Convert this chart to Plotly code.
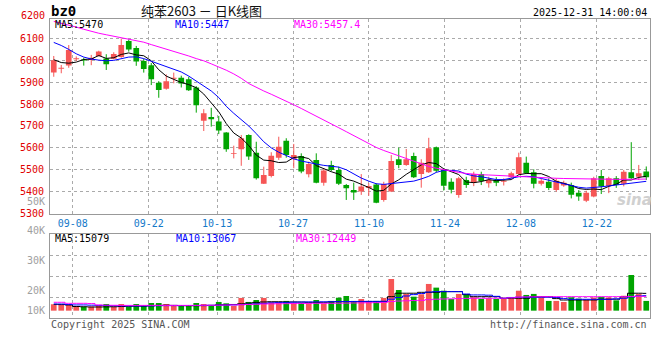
import plotly.graph_objects as go

# ---------------- data ----------------
DATES = ["09-03", "09-04", "09-05",
         "09-08", "09-09", "09-10", "09-11", "09-12",
         "09-15", "09-16", "09-17", "09-18", "09-19",
         "09-22", "09-23", "09-24", "09-25", "09-26",
         "09-29", "09-30", "10-09", "10-10",
         "10-13", "10-14", "10-15", "10-16", "10-17",
         "10-20", "10-21", "10-22", "10-23", "10-24",
         "10-27", "10-28", "10-29", "10-30", "10-31",
         "11-03", "11-04", "11-05", "11-06", "11-07",
         "11-10", "11-11", "11-12", "11-13", "11-14",
         "11-17", "11-18", "11-19", "11-20", "11-21",
         "11-24", "11-25", "11-26", "11-27", "11-28",
         "12-01", "12-02", "12-03", "12-04", "12-05",
         "12-08", "12-09", "12-10", "12-11", "12-12",
         "12-15", "12-16", "12-17", "12-18", "12-19",
         "12-22", "12-23", "12-24", "12-25", "12-26",
         "12-29", "12-30", "12-31"]

OPEN = [5944, 5962, 5976, 6005, 6004, 6002, 6020, 6008, 6007, 6015,
        6088, 6056, 5997, 5978, 5898, 5870, 5916, 5921, 5914, 5876,
        5724, 5741, 5720, 5670, 5573, 5594, 5659, 5578, 5436, 5471,
        5555, 5633, 5548, 5563, 5479, 5545, 5441, 5522, 5499, 5430,
        5407, 5400, 5416, 5433, 5362, 5400, 5548, 5522, 5563, 5480,
        5488, 5603, 5500, 5445, 5385, 5453, 5441, 5480, 5438, 5453,
        5445, 5466, 5480, 5532, 5488, 5436, 5445, 5407, 5428, 5430,
        5395, 5358, 5378, 5471, 5426, 5461, 5436, 5488, 5468, 5492]
HIGH = [6020, 5979, 6070, 6018, 6012, 6025, 6044, 6028, 6037, 6100,
        6096, 6066, 6006, 5988, 5905, 5936, 5944, 5930, 5925, 5882,
        5777, 5783, 5746, 5672, 5610, 5659, 5662, 5628, 5514, 5580,
        5651, 5644, 5618, 5575, 5537, 5575, 5507, 5541, 5514, 5435,
        5441, 5480, 5438, 5438, 5445, 5567, 5601, 5595, 5578, 5548,
        5646, 5606, 5507, 5461, 5468, 5468, 5491, 5491, 5468, 5466,
        5461, 5491, 5578, 5560, 5502, 5458, 5461, 5461, 5450, 5441,
        5407, 5404, 5468, 5499, 5468, 5471, 5499, 5626, 5522, 5515]
LOW = [5925, 5941, 5966, 5997, 5976, 5978, 6017, 5956, 6005, 6012,
       6040, 5975, 5944, 5887, 5829, 5866, 5895, 5876, 5860, 5761,
       5677, 5697, 5663, 5582, 5552, 5518, 5545, 5455, 5435, 5465,
       5545, 5555, 5507, 5484, 5465, 5438, 5427, 5493, 5430, 5362,
       5362, 5385, 5381, 5347, 5354, 5398, 5507, 5518, 5462, 5418,
       5485, 5488, 5405, 5392, 5372, 5417, 5425, 5430, 5418, 5425,
       5428, 5461, 5477, 5480, 5415, 5428, 5407, 5400, 5422, 5369,
       5358, 5352, 5374, 5389, 5393, 5417, 5424, 5458, 5453, 5453]
CLOSE = [6000, 5966, 6047, 6010, 5999, 6012, 6040, 5982, 6029, 6070,
         6050, 5995, 5961, 5914, 5865, 5904, 5920, 5894, 5863, 5795,
         5758, 5731, 5679, 5594, 5577, 5644, 5560, 5461, 5476, 5564,
         5605, 5567, 5567, 5492, 5526, 5441, 5496, 5499, 5436, 5415,
         5396, 5423, 5426, 5349, 5435, 5540, 5522, 5548, 5466, 5532,
         5598, 5495, 5427, 5408, 5461, 5430, 5480, 5449, 5453, 5440,
         5450, 5484, 5557, 5484, 5436, 5450, 5416, 5450, 5440, 5386,
         5378, 5395, 5461, 5423, 5461, 5430, 5491, 5461, 5484, 5466]

MA5 = [6003, 5990, 5987, 5992, 6004, 6006, 6022, 6009, 6012, 6027,
       6034, 6025, 6021, 5998, 5957, 5928, 5913, 5899, 5889, 5875,
       5846, 5808, 5765, 5711, 5668, 5645, 5611, 5567, 5544, 5541,
       5533, 5535, 5556, 5559, 5551, 5519, 5504, 5491, 5480, 5457,
       5448, 5434, 5419, 5402, 5406, 5435, 5454, 5479, 5502, 5522,
       5533, 5528, 5504, 5492, 5478, 5444, 5441, 5446, 5455, 5450,
       5454, 5455, 5477, 5483, 5482, 5482, 5469, 5447, 5438, 5428,
       5414, 5410, 5412, 5409, 5424, 5434, 5453, 5453, 5465, 5470]
MA10 = [6082, 6068, 6050, 6030, 6015, 6006, 6001, 5998, 6000, 6008,
        6015, 6016, 6008, 5996, 5983, 5970, 5958, 5947, 5928, 5906,
        5880, 5860, 5830, 5790, 5758, 5730, 5700, 5665, 5628, 5600,
        5580, 5565, 5550, 5540, 5532, 5526, 5520, 5517, 5512, 5500,
        5482, 5462, 5448, 5436, 5433, 5437, 5440, 5442, 5448, 5458,
        5470, 5488, 5497, 5497, 5494, 5480, 5472, 5468, 5462, 5455,
        5455, 5462, 5468, 5470, 5468, 5460, 5452, 5445, 5437, 5428,
        5420, 5416, 5418, 5422, 5426, 5430, 5434, 5438, 5443, 5447]
MA30 = [6178, 6170, 6161, 6152, 6142, 6132, 6124, 6117, 6110, 6104,
        6099, 6092, 6083, 6072, 6062, 6050, 6040, 6032, 6020, 6008,
        5998, 5984, 5970, 5955, 5938, 5918, 5894, 5876, 5860, 5845,
        5830, 5813, 5797, 5780, 5763, 5745, 5728, 5710, 5692, 5674,
        5656, 5636, 5618, 5602, 5588, 5576, 5565, 5552, 5540, 5527,
        5515, 5507, 5500, 5494, 5488, 5483, 5479, 5477, 5476, 5474,
        5473, 5471, 5469, 5467, 5465, 5463, 5462, 5461, 5460, 5459,
        5458, 5458, 5457, 5457, 5456, 5456, 5456, 5457, 5457, 5457.4]

VOLUME = [5600, 5200, 5200, 4100, 3500, 3500, 4400, 5800, 3500, 5800,
          3500, 5800, 4100, 6700, 6700, 5800, 4100, 4100, 4100, 6700,
          5800, 4100, 7600, 6400, 4100, 11100, 7600, 9300, 11100, 7300,
          7300, 8500, 6700, 6700, 6700, 9300, 6400, 8500, 11300, 12800,
          8500, 10200, 8500, 8500, 11100, 27600, 18000, 14600, 12200, 14300,
          23300, 20100, 17400, 10200, 14600, 14300, 11700, 10200, 10800, 10200,
          10200, 10800, 17400, 13700, 14600, 11700, 8500, 8500, 7600, 11700,
          10500, 9500, 11500, 12000, 11500, 9000, 13000, 31100, 14500, 8500]
VMA5 = [5500, 5300, 5000, 3600, 3400, 3200, 3200, 3300, 3400, 3600,
        3800, 4000, 4000, 4300, 4600, 4800, 4600, 4400, 4300, 4300,
        4400, 4600, 5000, 5200, 5400, 6000, 6600, 7200, 7600, 7800,
        7800, 7600, 7600, 7500, 7300, 7200, 7300, 7600, 7800, 7800,
        7800, 7800, 7800, 7800, 7900, 12200, 15200, 15200, 15200, 16000,
        16000, 16000, 16600, 16600, 16600, 14000, 12200, 12200, 12200, 12200,
        10800, 10800, 10800, 10800, 12200, 12200, 12200, 10500, 9300, 9300,
        9300, 9300, 9300, 10000, 10000, 10000, 12200, 15200, 15200, 15079]
VMA10 = [5800, 5800, 5300, 5000, 5000, 4800, 4600, 4500, 4300, 4200,
         4100, 4100, 4100, 4200, 4300, 4400, 4400, 4400, 4500, 4500,
         4600, 4700, 4800, 4900, 5000, 5300, 5600, 6000, 6400, 6800,
         7000, 7200, 7400, 7500, 7600, 7600, 7700, 7800, 7900, 8000,
         8000, 8100, 8100, 8100, 8200, 10000, 11500, 12800, 14000, 15000,
         16200, 16600, 16600, 16600, 16600, 14500, 13700, 13700, 13500, 12500,
         10800, 11500, 11700, 11700, 11700, 11700, 11700, 11500, 10500, 9900,
         9900, 9900, 9900, 9900, 9900, 10300, 10800, 12000, 12800, 13067]
VMA30 = [7300, 7300, 6400, 6400, 6400, 6200, 5000, 4800, 4700, 4600,
         4600, 4600, 4600, 4600, 4600, 4600, 4600, 4600, 4600, 4600,
         4700, 4700, 4800, 4900, 5000, 5200, 5400, 5600, 5800, 5900,
         6000, 6100, 6200, 6300, 6300, 6400, 6400, 6400, 6500, 6600,
         6700, 6800, 6900, 7000, 7200, 8000, 8400, 8600, 8800, 9000,
         9600, 10000, 10200, 10300, 10500, 10700, 10800, 10800, 10800, 10800,
         10900, 11200, 11800, 12000, 12100, 12200, 12200, 12200, 12200, 12200,
         12200, 12200, 12200, 12200, 12200, 12200, 12200, 12400, 12400, 12449]

TICK_DATES = ["09-08", "09-22", "10-13", "10-27", "11-10", "11-24", "12-08", "12-22"]
PRICE_TICKS = [5300, 5400, 5500, 5600, 5700, 5800, 5900, 6000, 6100]
TOP_PRICE_LABEL = "6200"
VOL_LABELS = ["50K", "40K", "30K", "20K", "10K"]
VOL_LABEL_Y = [201.5, 230.7, 260.7, 290.3, 310.3]   # pixel rows of the labels

TITLE = "纯苯2603 － 日K线图"
CODE = "bz0"
STAMP = "2025-12-31 14:00:04"
PRICE_MA_TEXT = ["MA5:5470", "MA10:5447", "MA30:5457.4"]
VOL_MA_TEXT = ["MA5:15079", "MA10:13067", "MA30:12449"]

# ---------------- style ----------------
RED = "#f65656"
GREEN = "#00a400"
MA_COLORS = ["#000000", "#0000ff", "#ff00ff"]
GRID = "#aaaaaa"
FRAME = "#999999"
MONO = "DejaVu Sans Mono"
W, H = 660, 360
L, R, T, B = 50, 650, 19, 318          # plot area in pixels
PRICE_BOTTOM = 213.5
VOL_TOP = 234.3
PRICE_RANGE = [5300, 6189]
VOL_RANGE = [-6400, 66600]


def px_x(px):
    return (px - L) / (R - L)


def px_y(py):
    return (B - py) / (B - T)


n = len(DATES)
xs = list(range(n))
up = [c >= o for o, c in zip(OPEN, CLOSE)]

fig = go.Figure()

# wicks
for flag, col in ((True, RED), (False, GREEN)):
    wx, wy = [], []
    for i in xs:
        if up[i] == flag:
            wx += [i, i, None]
            wy += [LOW[i], HIGH[i], None]
    fig.add_trace(go.Scatter(x=wx, y=wy, mode="lines", line=dict(color=col, width=1),
                             xaxis="x", yaxis="y", hoverinfo="skip"))

# bodies
for flag, col in ((True, RED), (False, GREEN)):
    bx, bb, bh = [], [], []
    for i in xs:
        if up[i] == flag:
            lo = min(OPEN[i], CLOSE[i])
            bx.append(i)
            bb.append(lo)
            bh.append(max(abs(CLOSE[i] - OPEN[i]), 3.5))
    fig.add_trace(go.Bar(x=bx, y=bh, base=bb, width=0.76, marker=dict(color=col, line=dict(width=0)),
                         xaxis="x", yaxis="y", hoverinfo="skip"))

# price MAs
for series, col in zip((MA5, MA10, MA30), MA_COLORS):
    fig.add_trace(go.Scatter(x=xs, y=series, mode="lines", line=dict(color=col, width=1),
                             xaxis="x", yaxis="y", hoverinfo="skip"))

# volume bars
fig.add_trace(go.Bar(x=xs, y=VOLUME, width=0.76,
                     marker=dict(color=[RED if u else GREEN for u in up], line=dict(width=0)),
                     xaxis="x2", yaxis="y2", hoverinfo="skip"))
for series, col in zip((VMA5, VMA10, VMA30), MA_COLORS):
    fig.add_trace(go.Scatter(x=xs, y=series, mode="lines", line=dict(color=col, width=1, shape="hvh"),
                             xaxis="x2", yaxis="y2", hoverinfo="skip"))

tick_pos = [-0.5 + DATES.index(d) * n / (n - 1) for d in TICK_DATES]
vol_grid = [VOL_RANGE[0] + k * (VOL_RANGE[1] - VOL_RANGE[0]) / 4 for k in (1, 2, 3)]

axis_common = dict(showline=True, linecolor=FRAME, linewidth=1, mirror=True,
                   showgrid=True, gridcolor=GRID, griddash="dot", gridwidth=1,
                   zeroline=False, ticks="", fixedrange=True, automargin=False)

price_dom = [px_y(PRICE_BOTTOM), 1]
vol_dom = [0, px_y(VOL_TOP)]

fig.update_layout(
    width=W, height=H,
    margin=dict(l=L, r=W - R, t=T, b=H - B, pad=0, autoexpand=False),
    paper_bgcolor="white", plot_bgcolor="white",
    showlegend=False, barmode="overlay", hovermode=False,
    font=dict(family=MONO, size=10, color="#000"),
    xaxis=dict(domain=[0, 1], range=[-0.5, n - 0.5], anchor="y",
               tickmode="array", tickvals=tick_pos, ticktext=TICK_DATES,
               tickfont=dict(family=MONO, size=10, color="#1479c9"), **axis_common),
    xaxis2=dict(domain=[0, 1], range=[-0.5, n - 0.5], anchor="y2", matches="x",
                tickmode="array", tickvals=tick_pos, showticklabels=False, **axis_common),
    yaxis=dict(domain=price_dom, range=PRICE_RANGE, anchor="x",
               tickmode="array", tickvals=PRICE_TICKS, ticktext=[str(v) for v in PRICE_TICKS],
               tickfont=dict(family=MONO, size=10, color="#e00000"), ticklabelstandoff=3,
               **axis_common),
    yaxis2=dict(domain=vol_dom, range=VOL_RANGE, anchor="x2",
                tickmode="array", tickvals=vol_grid, showticklabels=False, **axis_common),
)

ann = []
ann.append(dict(text=TOP_PRICE_LABEL, x=px_x(47), y=px_y(15.7), xanchor="right", yanchor="middle",
                font=dict(family=MONO, size=10, color="#e00000")))
for lab, py in zip(VOL_LABELS, VOL_LABEL_Y):
    ann.append(dict(text=lab, x=px_x(47), y=px_y(py), xanchor="right", yanchor="middle",
                    font=dict(family=MONO, size=10, color="#a0a0a0")))
ann.append(dict(text="<b>" + CODE + "</b>", x=px_x(49), y=px_y(11), xanchor="left", yanchor="middle",
                font=dict(family=MONO, size=14, color="#000")))
ann.append(dict(text=TITLE, x=px_x(201), y=px_y(10.7), xanchor="center", yanchor="middle",
                font=dict(family="Noto Sans CJK SC", size=13, color="#111")))
ann.append(dict(text=STAMP, x=px_x(649), y=px_y(12.3), xanchor="right", yanchor="middle",
                font=dict(family=MONO, size=10, color="#000")))
for txt, px, col in zip(PRICE_MA_TEXT, (52.5, 173, 292), MA_COLORS):
    ann.append(dict(text=txt, x=px_x(px), y=px_y(24.3), xanchor="left", yanchor="middle",
                    font=dict(family=MONO, size=10, color=col)))
for txt, px, col in zip(VOL_MA_TEXT, (53, 174, 294), MA_COLORS):
    ann.append(dict(text=txt, x=px_x(px), y=px_y(238.5), xanchor="left", yanchor="middle",
                    font=dict(family=MONO, size=10, color=col)))
ann.append(dict(text="Copyright 2025 SINA.COM", x=px_x(49), y=px_y(324.5), xanchor="left", yanchor="middle",
                font=dict(family=MONO, size=10, color="#555")))
ann.append(dict(text="http://finance.sina.com.cn", x=px_x(649), y=px_y(324.5), xanchor="right",
                yanchor="middle", font=dict(family=MONO, size=10, color="#555")))
ann.append(dict(text="<b><i>sina</i></b>", x=px_x(634), y=px_y(200), xanchor="center", yanchor="middle",
                font=dict(family="DejaVu Sans", size=15, color="#d0d0d0")))
for a in ann:
    a.update(xref="paper", yref="paper", showarrow=False)
fig.update_layout(annotations=ann)

fig.write_html("out.html", config={"displayModeBar": False, "staticPlot": True},
               post_script="document.body.style.margin='0';")
